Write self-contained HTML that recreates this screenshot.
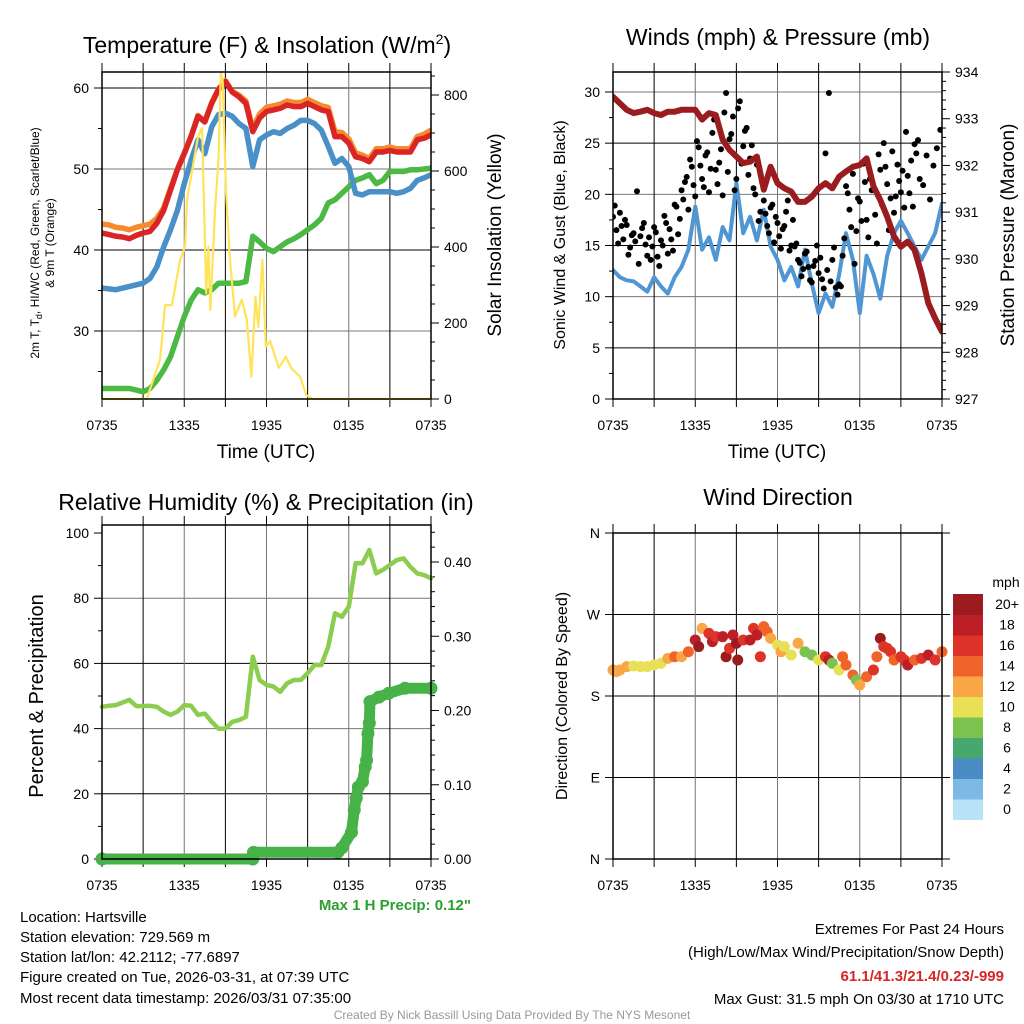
<!DOCTYPE html>
<html><head><meta charset="utf-8">
<style>
html,body{margin:0;padding:0;background:#fff;}
svg{display:block;font-family:"Liberation Sans",Arial,sans-serif;}
</style></head>
<body>
<svg id="fig" width="1024" height="1024" viewBox="0 0 1024 1024" xmlns="http://www.w3.org/2000/svg">
<rect width="1024" height="1024" fill="#fff"/>
<g id="p1"></g>
<g id="p2"></g>
<g id="p3"></g>
<g id="p4"></g>

<text x="267" y="53" font-size="23" text-anchor="middle">Temperature (F) &amp; Insolation (W/m<tspan dy="-9" font-size="14">2</tspan><tspan dy="9">)</tspan></text>
<text x="778" y="45" font-size="23" text-anchor="middle">Winds (mph) &amp; Pressure (mb)</text>
<text x="266" y="510" font-size="23" text-anchor="middle">Relative Humidity (%) &amp; Precipitation (in)</text>
<text x="778" y="505" font-size="23" text-anchor="middle">Wind Direction</text>

<text x="266" y="458" font-size="19" text-anchor="middle">Time (UTC)</text>
<text x="777" y="458" font-size="19" text-anchor="middle">Time (UTC)</text>

<text transform="translate(39,243) rotate(-90)" font-size="12" text-anchor="middle">2m T, T<tspan dy="3" font-size="9">d</tspan><tspan dy="-3">, HI/WC (Red, Green, Scarlet/Blue)</tspan></text>
<text transform="translate(54,243) rotate(-90)" font-size="12" text-anchor="middle">&amp; 9m T (Orange)</text>
<text transform="translate(501,235) rotate(-90)" font-size="19" text-anchor="middle">Solar Insolation (Yellow)</text>
<text transform="translate(565,235) rotate(-90)" font-size="16" text-anchor="middle">Sonic Wind &amp; Gust (Blue, Black)</text>
<text transform="translate(1014,235) rotate(-90)" font-size="19" text-anchor="middle">Station Pressure (Maroon)</text>
<text transform="translate(43,696) rotate(-90)" font-size="20" text-anchor="middle">Percent &amp; Precipitation</text>
<text transform="translate(567,696) rotate(-90)" font-size="16" text-anchor="middle">Direction (Colored By Speed)</text>

<text x="471" y="910" font-size="15" font-weight="bold" fill="#2ca02c" text-anchor="end">Max 1 H Precip: 0.12"</text>
<g font-size="15">
<text x="20" y="922">Location: Hartsville</text>
<text x="20" y="942">Station elevation: 729.569 m</text>
<text x="20" y="962">Station lat/lon: 42.2112; -77.6897</text>
<text x="20" y="982">Figure created on Tue, 2026-03-31, at 07:39 UTC</text>
<text x="20" y="1003">Most recent data timestamp: 2026/03/31 07:35:00</text>
</g>
<g font-size="15" text-anchor="end">
<text x="1004" y="934">Extremes For Past 24 Hours</text>
<text x="1004" y="957">(High/Low/Max Wind/Precipitation/Snow Depth)</text>
<text x="1004" y="981" font-weight="bold" fill="#d62728">61.1/41.3/21.4/0.23/-999</text>
<text x="1004" y="1004">Max Gust: 31.5 mph On 03/30 at 1710 UTC</text>
</g>
<text x="512" y="1019" font-size="12" fill="#999" text-anchor="middle">Created By Nick Bassill Using Data Provided By The NYS Mesonet</text>
</svg>
<script>
// ---- data ----
const timeLabels = ["0735","1335","1935","0135","0735"];
const hours = [0,0.5,1,1.5,2,2.5,3,3.5,4,4.5,5,5.5,6,6.5,7,7.5,8,8.5,9,9.5,10,10.5,11,11.5,12,12.5,13,13.5,14,14.5,15,15.5,16,16.5,17,17.5,18,18.5,19,19.5,20,20.5,21,21.5,22,22.5,23,23.5,24];
const tempRed = [42.1,41.9,41.7,41.6,41.4,41.8,42.1,42.3,43.3,44.9,47.4,49.9,51.9,54.0,56.5,55.8,58.1,59.8,60.8,59.5,58.9,58.1,54.6,56.3,57.1,57.3,57.5,57.9,57.7,57.7,58.1,57.7,57.3,57.1,54.0,54.0,53.2,51.5,51.3,50.9,52.1,52.1,52.3,52.1,52.1,52.1,53.6,53.8,54.2];
const tempOrange = [43.2,43.1,42.8,42.7,42.5,42.8,43.0,43.2,43.9,45.2,47.6,50.0,52.0,54.1,56.6,55.9,58.2,59.9,60.9,59.6,59.1,58.4,55.0,56.8,57.6,57.8,58.0,58.4,58.2,58.2,58.6,58.2,57.8,57.6,54.6,54.5,53.7,52.0,51.7,51.3,52.5,52.5,52.7,52.5,52.5,52.5,54.0,54.3,54.8];
const tempBlue = [35.3,35.2,35.1,35.3,35.5,35.7,35.9,36.5,37.9,40.4,42.5,44.9,48.2,51.1,53.6,51.9,55.2,56.7,56.9,56.5,55.6,55.0,50.3,53.6,54.2,54.6,54.4,55.0,55.4,56.0,56.0,55.6,54.8,52.8,50.7,51.3,50.3,47.0,46.8,47.2,47.2,47.2,47.2,47.0,47.2,47.6,48.6,48.9,49.3];
const tempGreen = [22.9,22.9,22.9,22.9,22.9,22.7,22.5,22.9,23.9,25.2,26.8,29.3,31.8,33.8,35.1,34.7,35.1,35.9,35.9,35.9,35.9,36.1,41.7,41.0,40.2,39.8,40.4,41.0,41.4,41.9,42.5,43.1,43.9,45.8,46.2,47.0,47.8,48.6,48.9,49.3,48.2,48.6,49.7,49.7,49.7,49.9,49.9,50.0,50.1];
const solarHours = [0,3.26,4.23,4.6,5.1,5.7,6.06,6.2,7.0,7.3,7.6,7.76,7.9,8.25,8.5,8.66,8.8,9.05,9.34,9.7,10.2,10.56,10.9,11.2,11.4,11.7,11.95,12.26,12.9,13.4,13.85,14.45,14.9,15.4,24];
const solarValues = [0,0,103,247,247,366,401,524,690,713,278,401,234,503,629,858,843,542,366,217,261,208,59,269,190,366,138,153,82,111,79,59,10,0,0];
const windSonic = [12.6,11.9,11.6,11.5,11.0,10.5,11.9,11.0,10.3,11.9,12.9,14.6,18.8,14.6,15.8,13.6,16.8,15.5,21.1,16.2,17.8,15.5,18.5,14.9,13.6,11.6,12.9,11.0,14.6,11.3,8.4,10.3,9.0,12.2,16.2,13.6,8.4,14.0,12.2,9.8,14.0,16.2,17.4,16.2,14.9,13.6,14.9,16.2,19.1];
const pressure = [933.47,933.33,933.19,933.12,933.15,933.19,933.12,933.08,933.15,933.15,933.19,933.19,933.19,932.98,933.12,933.08,932.55,932.33,932.19,932.05,932.08,932.19,931.48,931.97,931.62,931.51,931.44,931.22,931.22,931.33,931.51,931.62,931.51,931.76,931.87,931.97,932.01,932.15,931.55,931.26,930.90,930.48,930.26,930.37,930.19,929.69,929.05,928.73,928.44];
const gustA = [17.8,16.5,18.2,15.6,17.0,14.8,16.2,20.3,15.9,17.2,14.0,13.6,16.8,13.9,15.5,17.9,14.2,15.6,19.0,16.1,20.4,21.2,18.5,22.7,19.8,24.6,21.5,23.8,20.2,26.0,22.4,23.1,19.9,29.9,25.4,27.6,21.5,29.1,24.7,26.5,23.5,20.6,22.9,18.3,19.4,16.9,18.7,15.3,17.2,14.7,16.9,19.4,15.0,14.9,13.6,12.0,14.2,12.9,11.4,13.5,12.3,11.7,24.0,29.9,13.6,10.9,11.2,14.0,20.8,18.5,22.0,16.4,19.3,23.0,17.5,21.5,20.6,15.2,22.4,25.0,21.0,19.6,18.2,22.9,20.2,18.7,21.8,23.3,24.9,25.3];
const gustB = [18.9,15.2,16.9,17.5,14.1,16.0,15.4,13.2,16.7,15.1,15.8,14.9,16.3,13.0,15.0,17.2,16.6,14.5,18.8,17.6,19.5,21.7,23.4,20.9,25.2,22.8,20.7,24.1,22.5,27.3,21.0,24.4,28.0,22.2,25.9,20.4,28.4,23.0,26.2,21.9,24.8,20.0,17.4,21.2,18.1,16.2,19.0,17.8,15.9,16.6,18.3,14.5,17.5,15.2,13.3,12.7,14.4,11.6,13.0,15.0,13.8,10.8,12.6,11.5,14.8,10.2,11.0,15.7,20.1,16.8,13.2,19.6,17.4,21.2,15.8,20.4,18.0,23.9,19.0,22.7,16.5,24.2,19.8,21.3,22.3,26.1,20.1,18.8,24.0,21.5,20.9,23.8,19.5,22.8,24.5,26.3];
const rhValues = [46.7,47.0,47.2,48.0,48.8,46.9,46.9,47.0,46.7,45.2,44.2,45.2,47.2,47.0,44.2,44.6,42.1,40.0,40.0,42.1,42.6,43.6,62.1,54.9,53.4,52.9,51.3,53.9,54.9,54.9,57.0,59.5,59.5,65.1,75.4,74.3,77.4,90.7,90.7,94.8,87.6,88.7,90.2,91.7,92.2,89.6,87.6,87.1,86.1];
const precipHours = [0,11.0,11.05,17.2,17.5,18.2,18.4,18.55,18.7,19.0,19.2,19.3,19.4,19.5,19.55,20.2,20.9,22.1,24];
const precipValues = [0,0,0.009,0.009,0.015,0.036,0.066,0.082,0.097,0.104,0.124,0.133,0.169,0.183,0.212,0.218,0.223,0.230,0.230];
const dirHours = [0,0.25,0.5,1,1.5,2,2.5,3,3.5,4,4.5,5,5.5,6,6.25,6.5,7,7.25,7.5,8,8.25,8.5,8.75,9,9.1,9.5,10,10.25,10.5,10.75,11,11.25,11.5,12,12.25,12.5,13,13.5,14,14.5,15,15.5,15.75,16,16.5,16.75,17,17.5,17.75,18,18.5,19,19.25,19.5,19.75,20,20.25,20.5,21,21.25,21.5,22,22.5,23,23.5,24];
const dirValues = [208.7,206.9,208.7,212.4,213.1,212.4,212.4,214.2,216.1,221.6,223.4,223.4,228.9,241.8,234.5,254.7,249.2,240.0,245.5,245.5,223.4,232.6,247.4,238.2,219.8,241.8,241.8,254.7,247.4,223.4,256.6,251.0,243.7,236.3,228.9,234.5,225.3,238.2,228.9,225.3,219.8,223.4,219.8,216.1,208.7,223.4,214.2,203.2,197.7,192.1,201.3,208.7,223.4,243.7,234.5,232.6,228.9,219.8,223.4,219.8,214.2,219.8,221.6,225.3,219.8,228.9];
const dirSpeeds = [12,12,12,12,11,11,10,10,11,12,14,12,14,18,20,12,16,18,16,18,20,16,18,20,20,16,18,16,18,16,14,14,12,11,12,10,11,12,9,8,10,16,18,8,10,14,14,14,8,12,14,16,14,20,16,16,16,14,16,16,18,14,16,18,16,14];
const speedLabels = ["0","2","4","6","8","10","12","14","16","18","20+"];
const speedColors = ["#b8e2f6","#7cb9e4","#4a8cc4","#46a86f","#7cc24e","#e8e055","#f9a744","#f16429","#dd3328","#bc1f26","#9b1c1f"];

// ---- helpers ----
const NS = "http://www.w3.org/2000/svg";
function mk(parent, tag, attrs){
  const el = document.createElementNS(NS, tag);
  for (const k in attrs) el.setAttribute(k, attrs[k]);
  parent.appendChild(el);
  return el;
}
function linY(v0, v1, y0, y1){ return v => y0 + (v - v0) * (y1 - y0) / (v1 - v0); }

function frame(g, L, R, T, B){
  const xs = h => L + h * (R - L) / 24;
  for (let h = 3; h < 24; h += 3){
    const ln = mk(g, "line", {x1: xs(h), x2: xs(h), y1: T, y2: B, stroke: h % 6 === 0 ? "#777" : "#000", "stroke-width": 1});
    
    
  }
  for (let h = 0; h <= 24; h += 3){
    for (const [ya, yb] of [[T - 9, T], [B, B + 8]]){
      const tk = mk(g, "line", {x1: xs(h), x2: xs(h), y1: ya, y2: yb, stroke: "#000", "stroke-width": 1});
      
      
    }
  }
  timeLabels.forEach((lab, i) => {
    const t = mk(g, "text", {x: xs(i * 6), y: B + 31, "font-size": 14, "text-anchor": "middle"});
    t.textContent = lab;
    
    
  });
  return xs;
}
function hgrid(g, L, R, y, dark){
  const ln = mk(g, "line", {x1: L, x2: R, y1: y, y2: y, stroke: dark ? "#000" : "#777", "stroke-width": 1});
  
  
}
function yTicks(g, x, dir, vals, ys, len, labels){
  vals.forEach((v, i) => {
    const y = ys(v);
    const tk = mk(g, "line", {x1: x, x2: x + dir * len, y1: y, y2: y, stroke: "#000", "stroke-width": 1});
    
    
    if (labels){
      const t = mk(g, "text", {x: x + dir * 13, y: y + 5, "font-size": 14, "text-anchor": dir < 0 ? "end" : "start"});
      t.textContent = labels[i];
      
      
    }
  });
}
function border(g, L, R, T, B){
  const r = mk(g, "rect", {x: L, y: T, width: R - L, height: B - T, fill: "none", stroke: "#000", "stroke-width": 1.5});
  
  
}
function line(g, xsArr, ysArr, xs, ys, color, w, name){
  const pts = xsArr.map((h, i) => xs(h).toFixed(1) + "," + ys(ysArr[i]).toFixed(1)).join(" ");
  const p = mk(g, "polyline", {points: pts, fill: "none", stroke: color, "stroke-width": w, "stroke-linejoin": "round", "stroke-linecap": "round"});
  
  
}

// ---- panel 1: temperature ----
(function(){
  const g = document.getElementById("p1");
  const L = 102, R = 431, T = 72, B = 399;
  const yT = linY(60, 30, 88, 331);
  const yS = linY(0, 800, 399, 95);
  [60, 50, 40, 30].forEach((v, i) => hgrid(g, L, R, yT(v), i % 2 === 0));
  const xs = frame(g, L, R, T, B);
  yTicks(g, L, -1, [60, 50, 40, 30], yT, 8, ["60", "50", "40", "30"]);
  yTicks(g, L, -1, [55, 45, 35, 25], yT, 4, null);
  yTicks(g, R, 1, [0, 200, 400, 600, 800], yS, 8, ["0", "200", "400", "600", "800"]);
  yTicks(g, R, 1, [50, 100, 150, 250, 300, 350, 450, 500, 550, 650, 700, 750, 850], yS, 4, null);
  const clip = mk(g, "clipPath", {id: "c1"}); mk(clip, "rect", {x: L, y: T - 2, width: R - L, height: B - T + 4});
  const d = mk(g, "g", {"clip-path": "url(#c1)"});
  line(d, hours, tempGreen, xs, yT, "#4cb944", 5.5, "dewpoint-line");
  line(d, hours, tempBlue, xs, yT, "#4a90c8", 5.5, "heat-index-line");
  line(d, hours, tempOrange, xs, yT, "#f58a2e", 5.5, "temp-9m-line");
  line(d, hours, tempRed, xs, yT, "#d92525", 5.5, "temp-2m-line");
  line(d, solarHours, solarValues, xs, yS, "#ffe35a", 2.2, "solar-line");
  border(g, L, R, T, B);
})();

// ---- panel 2: winds ----
(function(){
  const g = document.getElementById("p2");
  const L = 613, R = 942, T = 72, B = 399;
  const yW = linY(0, 30, 399, 92);
  const yP = linY(927, 934, 399, 72);
  [30, 25, 20, 15, 10, 5].forEach((v, i) => hgrid(g, L, R, yW(v), i % 2 === 1));
  const xs = frame(g, L, R, T, B);
  yTicks(g, L, -1, [0, 5, 10, 15, 20, 25, 30], yW, 8, ["0", "5", "10", "15", "20", "25", "30"]);
  yTicks(g, L, -1, [2.5, 7.5, 12.5, 17.5, 22.5, 27.5], yW, 4, null);
  yTicks(g, R, 1, [927, 928, 929, 930, 931, 932, 933, 934], yP, 8, ["927", "928", "929", "930", "931", "932", "933", "934"]);
  const minors = []; for (let p = 927.2; p < 934; p += 0.2) if (Math.abs(p - Math.round(p)) > 0.05) minors.push(p);
  yTicks(g, R, 1, minors, yP, 4, null);
  const clip = mk(g, "clipPath", {id: "c2"}); mk(clip, "rect", {x: L, y: T - 2, width: R - L, height: B - T + 4});
  const d = mk(g, "g", {"clip-path": "url(#c2)"});
  line(d, hours, windSonic, xs, yW, "#5096d2", 4, "sonic-wind-line");
  gustA.forEach((v, i) => {
    const c = mk(d, "circle", {cx: xs(i * 0.25), cy: yW(v), r: 3, fill: "#000"});
    
    
  });
  gustB.forEach((v, i) => {
    const c = mk(d, "circle", {cx: xs(0.125 + i * 0.25), cy: yW(v), r: 3, fill: "#000"});
    
    
  });
  line(d, hours, pressure, xs, yP, "#9b1c1f", 6, "pressure-line");
  border(g, L, R, T, B);
})();

// ---- panel 3: humidity ----
(function(){
  const g = document.getElementById("p3");
  const L = 102, R = 431, T = 525, B = 859;
  const yR = linY(0, 100, 859, 533);
  const yPr = linY(0, 0.4, 859, 562);
  [80, 60, 40, 20].forEach((v, i) => hgrid(g, L, R, yR(v), i % 2 === 1));
  const xs = frame(g, L, R, T, B);
  yTicks(g, L, -1, [0, 20, 40, 60, 80, 100], yR, 8, ["0", "20", "40", "60", "80", "100"]);
  yTicks(g, L, -1, [10, 30, 50, 70, 90], yR, 4, null);
  yTicks(g, R, 1, [0, 0.1, 0.2, 0.3, 0.4], yPr, 8, ["0.00", "0.10", "0.20", "0.30", "0.40"]);
  yTicks(g, R, 1, [0.02, 0.04, 0.06, 0.08, 0.12, 0.14, 0.16, 0.18, 0.22, 0.24, 0.26, 0.28, 0.32, 0.34, 0.36, 0.38, 0.42, 0.44], yPr, 4, null);
  const d = mk(g, "g", {});
  line(d, hours, rhValues, xs, yR, "#8ccc4f", 4.5, "humidity-line");
  line(d, precipHours, precipValues, xs, yPr, "#46b248", 11, "precip-line");
  precipHours.forEach((h, i) => {
    const c = mk(d, "circle", {cx: xs(h), cy: yPr(precipValues[i]), r: 6.5, fill: "#46b248"});
    
    
  });
  border(g, L, R, T, B);
})();

// ---- panel 4: direction ----
(function(){
  const g = document.getElementById("p4");
  const L = 613, R = 942, T = 533, B = 859;
  const yD = linY(0, 360, 859, 533);
  [90, 180, 270].forEach(v => hgrid(g, L, R, yD(v), true));
  const xs = frame(g, L, R, T, B);
  yTicks(g, L, -1, [0, 90, 180, 270, 360], yD, 8, ["N", "E", "S", "W", "N"]);
  yTicks(g, R, 1, [0, 90, 180, 270, 360], yD, 8, null);
  const d = mk(g, "g", {});
  dirHours.forEach((h, i) => {
    const idx = Math.min(10, Math.floor(dirSpeeds[i] / 2));
    const c = mk(d, "circle", {cx: xs(h), cy: yD(dirValues[i]), r: 5.5, fill: speedColors[idx]});
    
    
  });
  border(g, L, R, T, B);
  const cb = mk(g, "g", {});
  
  
  const cbTop = 594, cbH = 20.5;
  const ut = mk(cb, "text", {x: 1006, y: 587, "font-size": 14, "text-anchor": "middle"});
  ut.textContent = "mph";
  
  
  speedLabels.forEach((lab, i) => {
    const k = 10 - i;
    const r = mk(cb, "rect", {x: 953, y: cbTop + k * cbH, width: 30, height: cbH + 0.5, fill: speedColors[i]});
    
    
    const t = mk(cb, "text", {x: 1007, y: cbTop + k * cbH + 15, "font-size": 14, "text-anchor": "middle"});
    t.textContent = lab;
    
    
  });
})();
</script>
</body></html>
